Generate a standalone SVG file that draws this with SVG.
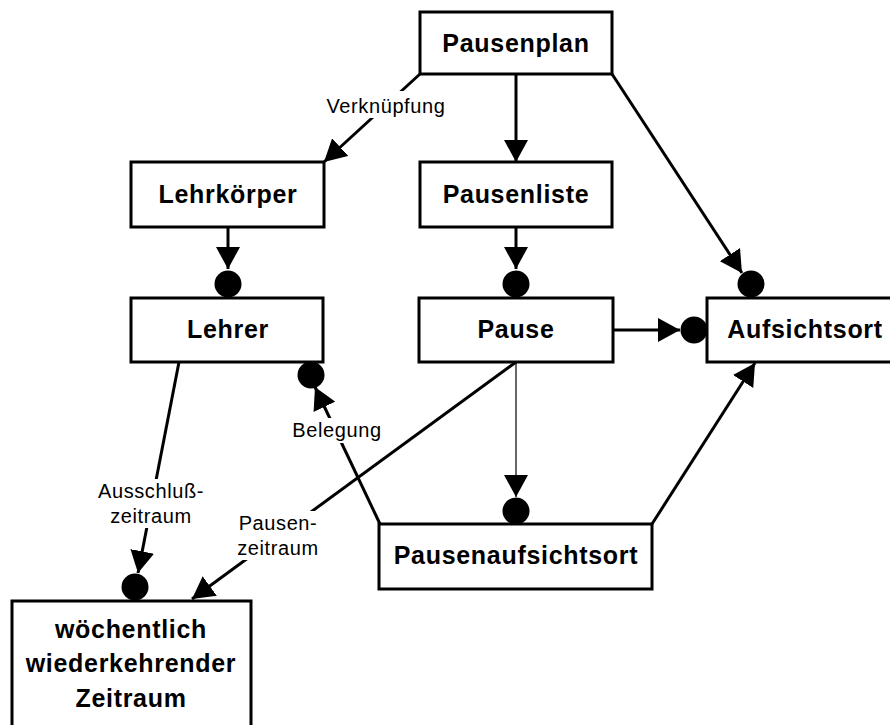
<svg xmlns="http://www.w3.org/2000/svg" width="890" height="725" viewBox="0 0 890 725">
  <style>
    .box { fill: #ffffff; stroke: #000000; stroke-width: 3; }
    .name { font-family: "Liberation Sans", Arial, sans-serif; font-size: 25px; font-weight: bold; letter-spacing: 0.7px; text-anchor: middle; fill: #000000; }
    .edge { fill: none; stroke: #000000; stroke-width: 3; marker-end: url(#arrow); }
    .edge.thin { stroke-width: 1.2; }
    .label { font-family: "Liberation Sans", Arial, sans-serif; font-size: 20px; letter-spacing: 0.6px; text-anchor: middle; fill: #000000; }
    .knock { fill: #ffffff; stroke: none; }
  </style>
  <defs>
    <marker id="arrow" markerUnits="userSpaceOnUse" markerWidth="22" markerHeight="24" viewBox="0 -12 22 24" refX="22" refY="0" orient="auto">
      <path d="M0,-12 L22,0 L0,12 Z" fill="#000000"/>
    </marker>
    <circle id="dot" r="13.5" cx="0" cy="0" fill="#000000"/>
  </defs>

  <rect width="890" height="725" fill="#ffffff"/>

  <!-- connectors -->
  <g id="connectors">
    <line class="edge" x1="420" y1="74" x2="324" y2="162"/>
    <line class="edge" x1="516" y1="74" x2="516" y2="162"/>
    <line class="edge" x1="612" y1="74" x2="742" y2="273"/>
    <use href="#dot" x="751" y="284"/>
    <line class="edge" x1="228" y1="227" x2="228" y2="269"/>
    <use href="#dot" x="228" y="284"/>
    <line class="edge" x1="516" y1="227" x2="516" y2="269"/>
    <use href="#dot" x="516" y="284"/>
    <line class="edge" x1="613" y1="330" x2="680" y2="330"/>
    <use href="#dot" x="694" y="330"/>
    <line class="edge thin" x1="516" y1="362" x2="516" y2="497"/>
    <use href="#dot" x="516" y="511"/>
    <line class="edge" x1="652" y1="524" x2="755" y2="363"/>
    <line class="edge" x1="380" y1="524" x2="315" y2="387"/>
    <use href="#dot" x="311" y="375"/>
    <line class="edge" x1="516" y1="362" x2="192" y2="599"/>
    <line class="edge" x1="179" y1="362" x2="138" y2="573"/>
    <use href="#dot" x="135" y="587"/>

    <!-- edge labels on a white ground that interrupts their lines -->
    <rect class="knock" x="322" y="91" width="128" height="27"/>
    <text class="label" x="386" y="113">Verknüpfung</text>
    <rect class="knock" x="290" y="418" width="93" height="25"/>
    <text class="label" x="337" y="437">Belegung</text>
    <rect class="knock" x="97" y="479" width="108" height="49"/>
    <text class="label" x="151" y="498">Ausschluß-</text>
    <text class="label" x="151" y="523">zeitraum</text>
    <rect class="knock" x="236" y="511" width="84" height="49"/>
    <text class="label" x="278" y="530">Pausen-</text>
    <text class="label" x="278" y="555">zeitraum</text>
  </g>

  <!-- entities -->
  <g id="pausenplan">
    <rect class="box" x="420" y="12" width="192" height="62"/>
    <text class="name" x="516" y="52">Pausenplan</text>
  </g>
  <g id="lehrkoerper">
    <rect class="box" x="131" y="162" width="193" height="65"/>
    <text class="name" x="228" y="203">Lehrkörper</text>
  </g>
  <g id="pausenliste">
    <rect class="box" x="420" y="162" width="192" height="65"/>
    <text class="name" x="516" y="203">Pausenliste</text>
  </g>
  <g id="lehrer">
    <rect class="box" x="131" y="298" width="192" height="64"/>
    <text class="name" x="228" y="338">Lehrer</text>
  </g>
  <g id="pause">
    <rect class="box" x="419" y="298" width="194" height="64"/>
    <text class="name" x="516" y="338">Pause</text>
  </g>
  <g id="aufsichtsort">
    <rect class="box" x="707" y="298" width="196" height="64"/>
    <text class="name" x="805" y="338">Aufsichtsort</text>
  </g>
  <g id="pausenaufsichtsort">
    <rect class="box" x="379" y="524" width="273" height="65"/>
    <text class="name" x="516" y="564">Pausenaufsichtsort</text>
  </g>
  <g id="zeitraum">
    <rect class="box" x="12" y="601" width="239" height="140"/>
    <text class="name" x="131" y="638">wöchentlich</text>
    <text class="name" x="131" y="672">wiederkehrender</text>
    <text class="name" x="131" y="707">Zeitraum</text>
  </g>
</svg>
